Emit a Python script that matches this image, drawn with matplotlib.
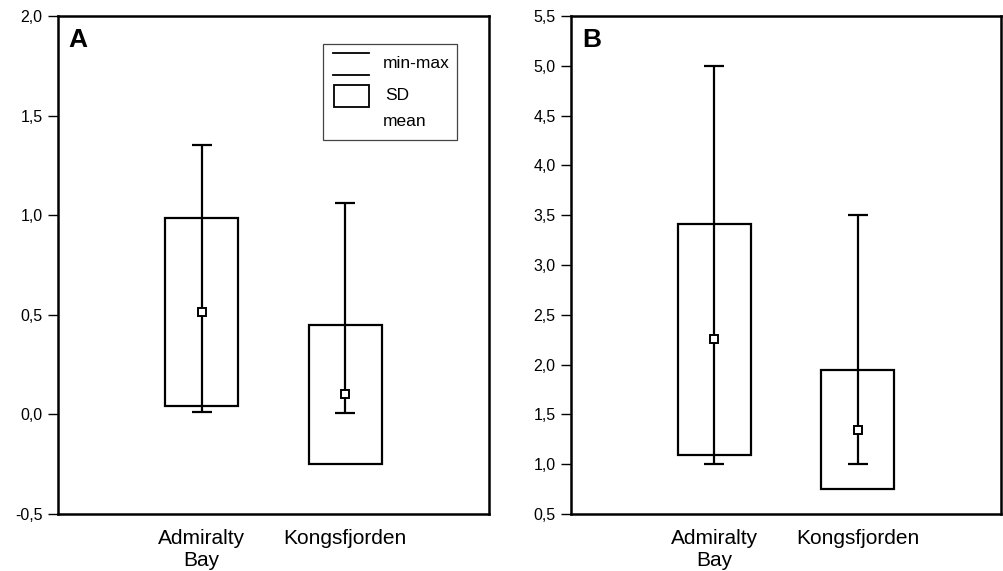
import matplotlib
matplotlib.use("Agg")
import matplotlib.pyplot as plt
from matplotlib.patches import Rectangle
from matplotlib.lines import Line2D

plt.rcParams['font.family'] = ['Liberation Sans', 'DejaVu Sans']

categories = ["Admiralty\nBay", "Kongsfjorden"]

# Panel A
mean_a = [0.514, 0.10]
sd_a = [0.473, 0.35]
min_a = [0.01, 0.007]
max_a = [1.352, 1.063]
yticks_a = [-0.5, 0.0, 0.5, 1.0, 1.5, 2.0]

# Panel B
mean_b = [2.254, 1.347]
sd_b = [1.158, 0.598]
min_b = [1.0, 1.0]
max_b = [5.0, 3.5]
yticks_b = [0.5, 1.0, 1.5, 2.0, 2.5, 3.0, 3.5, 4.0, 4.5, 5.0, 5.5]

W, H = 1004, 571
fig = plt.figure(figsize=(W / 100, H / 100), dpi=100)

def fmt(v):
    return f"{v:.1f}".replace(".", ",")

def draw_panel(ax, means, sds, mins, maxs, yticks, letter):
    x = [1, 2]
    lows = [m - s for m, s in zip(means, sds)]
    heights = [2 * s for s in sds]
    ax.bar(x, heights, bottom=lows, width=0.51, fill=False,
           edgecolor='black', linewidth=1.6, zorder=2)
    ax.errorbar(x, means,
                yerr=[[m - lo for m, lo in zip(means, mins)],
                      [hi - m for m, hi in zip(means, maxs)]],
                fmt='none', ecolor='black', elinewidth=1.6,
                capsize=7, capthick=1.6, zorder=3)
    ax.plot(x, means, linestyle='none', marker='s', markersize=5.5,
            markerfacecolor='white', markeredgecolor='black',
            markeredgewidth=1.4, zorder=4)
    ax.set_xlim(0, 3)
    ax.set_ylim(yticks[0], yticks[-1])
    ax.set_yticks(yticks)
    ax.set_yticklabels([fmt(v) for v in yticks], fontsize=11.5)
    ax.set_xticks(x)
    ax.set_xticklabels(categories, fontsize=15, linespacing=1.2)
    ax.tick_params(axis='x', length=0, pad=11)
    ax.tick_params(axis='y', length=7, width=1.0, direction='out', pad=4)
    for s in ax.spines.values():
        s.set_linewidth(1.8)
    ax.text(0.025, 0.975, letter, transform=ax.transAxes, fontsize=19,
            fontweight='bold', va='top', ha='left')

axA = fig.add_axes([58 / W, 1 - 514 / H, (489 - 58) / W, (514 - 16) / H])
axB = fig.add_axes([571 / W, 1 - 514 / H, (1001 - 571) / W, (514 - 16) / H])

draw_panel(axA, mean_a, sd_a, min_a, max_a, yticks_a, "A")
draw_panel(axB, mean_b, sd_b, min_b, max_b, yticks_b, "B")

# Custom legend in panel A (axes-fraction coordinates)
def px_to_ax(px, py):
    return ((px - 58) / (489 - 58), (514 - py) / (514 - 16))

x0, y0 = px_to_ax(323, 140)
x1, y1 = px_to_ax(457, 44)
axA.add_patch(Rectangle((x0, y0), x1 - x0, y1 - y0, transform=axA.transAxes,
                        fill=False, edgecolor='#444444', linewidth=0.9, zorder=5))
lx0, _ = px_to_ax(333, 0)
lx1, _ = px_to_ax(369, 0)
for py in (53, 75):
    _, ly = px_to_ax(0, py)
    axA.add_line(Line2D([lx0, lx1], [ly, ly], transform=axA.transAxes,
                        color='black', linewidth=1.3, zorder=5))
rx0, ry0 = px_to_ax(334, 107)
rx1, ry1 = px_to_ax(369, 85)
axA.add_patch(Rectangle((rx0, ry0), rx1 - rx0, ry1 - ry0, transform=axA.transAxes,
                        fill=False, edgecolor='black', linewidth=1.3, zorder=5))
for label, px, py in (("min-max", 383, 63), ("SD", 385, 96), ("mean", 383, 121)):
    tx, ty = px_to_ax(px, py)
    axA.text(tx, ty, label, transform=axA.transAxes, fontsize=12.5,
             va='center', ha='left', zorder=6)

fig.savefig("out.png", dpi=100)
